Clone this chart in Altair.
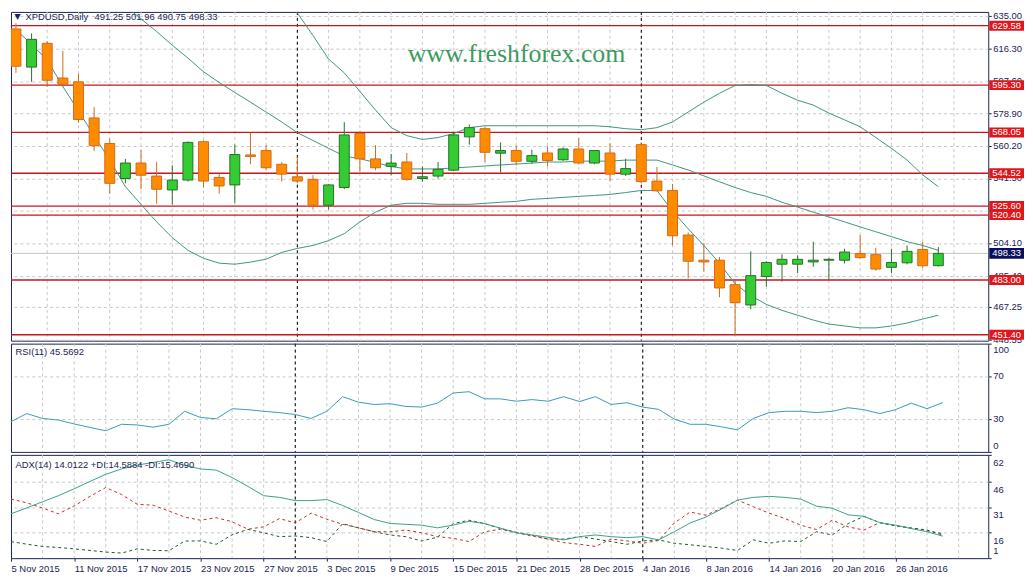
import json
import altair as alt
import pandas as pd

# ---------------- data ----------------
dates = ["5 Nov 2015", "6 Nov 2015", "9 Nov 2015", "10 Nov 2015", "11 Nov 2015", "12 Nov 2015",
         "13 Nov 2015", "16 Nov 2015", "17 Nov 2015", "18 Nov 2015", "19 Nov 2015", "20 Nov 2015",
         "23 Nov 2015", "24 Nov 2015", "25 Nov 2015", "26 Nov 2015", "27 Nov 2015", "30 Nov 2015",
         "1 Dec 2015", "2 Dec 2015", "3 Dec 2015", "4 Dec 2015", "7 Dec 2015", "8 Dec 2015",
         "9 Dec 2015", "10 Dec 2015", "11 Dec 2015", "14 Dec 2015", "15 Dec 2015", "16 Dec 2015",
         "17 Dec 2015", "18 Dec 2015", "21 Dec 2015", "22 Dec 2015", "23 Dec 2015", "24 Dec 2015",
         "28 Dec 2015", "29 Dec 2015", "30 Dec 2015", "31 Dec 2015", "4 Jan 2016", "5 Jan 2016",
         "6 Jan 2016", "7 Jan 2016", "8 Jan 2016", "11 Jan 2016", "12 Jan 2016", "13 Jan 2016",
         "14 Jan 2016", "15 Jan 2016", "18 Jan 2016", "19 Jan 2016", "20 Jan 2016", "21 Jan 2016",
         "22 Jan 2016", "25 Jan 2016", "26 Jan 2016", "27 Jan 2016", "28 Jan 2016", "29 Jan 2016"]

opens = [627.7, 605.7, 619.4, 599.4, 597.2, 576.4, 561.7, 541.5, 550.4, 542.9,
         534.9, 540.6, 562.7, 542.1, 537.8, 555.1, 557.6, 549.7, 542.5, 541.0,
         526.1, 536.3, 567.4, 552.8, 548.5, 551.0, 541.5, 542.9, 546.3, 565.5,
         570.2, 556.1, 557.6, 551.4, 556.2, 552.3, 558.5, 550.4, 556.2, 544.0,
         561.0, 540.0, 534.6, 508.9, 494.4, 494.4, 480.3, 468.6, 485.0, 492.1,
         492.1, 493.4, 494.4, 494.4, 498.2, 497.6, 490.3, 492.9, 500.6, 491.25]
highs = [631.0, 625.1, 620.7, 615.0, 601.9, 582.6, 564.5, 552.8, 557.9, 551.0,
         549.1, 562.8, 563.5, 544.3, 561.0, 567.9, 560.7, 551.0, 554.2, 543.4,
         538.4, 574.0, 568.9, 560.7, 555.7, 556.2, 548.5, 551.0, 567.9, 572.6,
         571.1, 562.3, 560.4, 558.1, 559.8, 559.4, 564.7, 557.9, 561.7, 552.8,
         562.3, 548.1, 538.4, 510.4, 504.4, 496.3, 483.1, 499.5, 493.8, 497.8,
         497.2, 505.1, 495.7, 501.0, 508.9, 501.6, 501.0, 502.9, 505.1, 501.96]
lows = [602.4, 597.2, 594.3, 594.3, 573.6, 557.2, 532.7, 538.7, 535.3, 527.0,
        526.5, 539.7, 536.3, 532.7, 527.4, 549.7, 546.3, 539.7, 538.7, 523.6,
        523.6, 535.3, 545.3, 546.3, 543.4, 540.2, 539.7, 541.5, 545.7, 561.0,
        551.0, 544.9, 549.1, 550.0, 548.5, 551.5, 549.7, 549.7, 540.0, 542.9,
        538.7, 534.0, 502.9, 484.0, 487.8, 473.1, 451.0, 466.1, 479.3, 482.1,
        486.9, 490.6, 483.1, 492.5, 495.4, 488.3, 486.9, 492.0, 490.0, 490.75]
closes = [606.2, 621.7, 598.1, 595.8, 575.5, 560.4, 538.7, 550.4, 543.4, 535.3,
          540.6, 562.3, 540.0, 537.2, 555.3, 554.2, 547.7, 544.0, 540.0, 526.1,
          537.8, 566.6, 552.8, 547.7, 550.4, 541.0, 542.5, 546.8, 566.6, 570.8,
          556.6, 557.6, 551.4, 554.7, 551.9, 558.5, 550.4, 557.6, 544.0, 547.2,
          539.7, 534.4, 508.5, 493.8, 493.4, 478.4, 469.9, 485.5, 493.1, 494.9,
          494.9, 494.4, 494.9, 499.1, 495.9, 489.3, 493.1, 499.5, 491.2, 498.33]

bb_upper = [None] * 17 + [
    648.8, 636.9, 623.9, 610.3, 602.4, 591.7, 580.9, 570.8, 566.2, 564.0,
    565.1, 567.4, 570.8, 571.9, 571.9, 571.9, 571.9, 571.9, 571.9, 571.9,
    571.9, 571.3, 570.2, 569.6, 570.8, 574.1, 579.8, 585.5, 590.6, 595.1,
    595.6, 595.1, 590.6, 586.6, 583.8, 579.2, 575.3, 571.3, 565.1, 558.9,
    552.1, 543.6, 536.8]
bb_mid = [None] * 7 + [
    640.9, 633.5, 626.2, 618.3, 610.9, 603.0, 596.8, 591.1, 585.5, 579.8,
    574.1, 567.9, 563.4, 558.9, 554.4, 552.9, 550.7, 548.4, 547.0, 547.0,
    547.0, 547.6, 548.1, 548.7, 549.3, 549.8, 550.4, 551.0, 551.0, 551.5,
    551.5, 551.5, 552.1, 552.1, 552.1, 549.3, 546.4, 543.0, 539.6, 536.3,
    533.4, 531.2, 527.8, 525.0, 522.1, 519.3, 516.5, 513.6, 510.8, 508.0,
    505.1, 502.9, 500.1]
bb_lower = [627.3, 618.8, 609.8, 594.5, 580.4, 566.2, 552.1, 536.8, 526.6, 516.5,
            507.4, 500.1, 495.5, 492.7, 492.1, 493.3, 495.0, 498.9, 501.2, 502.9,
            505.7, 509.7, 516.5, 522.1, 526.1, 527.2, 527.2, 526.6, 526.6, 526.6,
            527.2, 527.8, 528.3, 529.5, 530.0, 530.6, 531.2, 531.7, 532.3, 533.4,
            534.6, 534.6, 522.7, 512.5, 502.9, 492.7, 480.8, 474.0, 468.9, 465.5,
            462.7, 459.9, 457.6, 456.5, 455.4, 455.4, 456.5, 458.2, 460.5, 462.7]

rsi = [27.9, 35.4, 30.9, 29.4, 25.8, 22.6, 19.5, 25.5, 24.9, 22.8,
       25.5, 37.5, 31.8, 30.6, 39.9, 39.0, 37.5, 36.3, 34.5, 30.9,
       37.5, 51.0, 45.9, 43.8, 44.5, 42.0, 41.4, 45.0, 54.4, 55.6,
       49.0, 49.0, 46.8, 48.3, 46.8, 51.0, 46.5, 51.0, 43.8, 45.4,
       41.4, 39.3, 30.3, 25.5, 25.5, 23.1, 20.4, 30.9, 36.3, 37.5,
       37.5, 36.3, 37.5, 40.8, 39.0, 35.4, 39.0, 45.0, 39.9, 45.57]
adx = [27.2, 30.7, 34.3, 37.9, 42.0, 46.3, 50.5, 53.7, 56.0, 57.5,
       59.1, 55.8, 53.7, 53.0, 48.6, 43.4, 37.9, 36.9, 35.0, 35.0,
       35.6, 32.1, 28.0, 23.8, 21.5, 21.0, 20.5, 18.9, 20.5, 22.8,
       21.4, 18.7, 16.0, 14.7, 13.3, 11.8, 13.7, 14.7, 13.7, 13.1,
       13.7, 11.8, 16.6, 21.8, 25.3, 30.1, 35.3, 36.9, 37.5, 36.9,
       35.9, 31.7, 30.5, 26.6, 25.7, 22.0, 20.5, 18.5, 16.6, 14.01]
plus_di = [10.8, 9.25, 7.9, 7.3, 6.5, 5.55, 4.6, 4.0, 6.5, 5.55,
           5.4, 11.1, 11.2, 9.2, 14.8, 18.0, 16.0, 13.7, 14.1, 13.1,
           10.8, 21.4, 18.9, 16.6, 14.7, 13.7, 11.1, 13.4, 21.4, 23.4,
           21.4, 18.5, 16.3, 14.5, 12.3, 12.3, 13.7, 12.3, 10.8, 9.2,
           11.2, 11.8, 9.8, 8.9, 7.9, 6.9, 5.55, 11.8, 9.8, 11.2,
           10.8, 16.6, 14.7, 21.4, 25.7, 22.0, 20.1, 18.9, 17.6, 14.59]
minus_di = [35.9, 33.7, 30.6, 27.2, 31.8, 37.5, 42.7, 38.6, 32.8, 32.3,
            28.8, 25.3, 23.4, 24.9, 22.5, 18.1, 19.5, 24.4, 21.8, 27.6,
            24.0, 21.0, 18.9, 16.6, 16.6, 17.6, 16.0, 13.7, 12.7, 10.8,
            16.6, 18.1, 16.0, 14.0, 12.3, 10.2, 9.2, 7.9, 12.3, 11.2,
            9.8, 11.4, 21.8, 28.2, 26.4, 30.5, 35.3, 31.4, 27.6, 24.4,
            20.5, 17.9, 23.4, 19.5, 17.6, 22.0, 20.1, 18.5, 17.2, 15.47]

levels = [629.58, 595.30, 568.05, 544.52, 525.60, 520.40, 483.00, 451.40]
current_price = [498.33]
price_ticks = [635.00, 616.30, 597.60, 578.90, 560.20, 541.50, 522.80, 504.10, 485.40, 467.25, 448.55]
rsi_ticks = [0, 30, 70, 100]
adx_ticks = [1, 16, 31, 46, 62]
date_tick_idx = list(range(0, 60, 4))
grid_idx = list(range(2, 62, 2))
month_sep_idx = [18, 40]

header_symbol = "XPDUSD,Daily"
header_ohlc = "491.25 501.96 490.75 498.33"
rsi_title = "RSI(11) 45.5692"
adx_title = "ADX(14) 14.0122 +DI:14.5884 -DI:15.4690"
watermark = "www.freshforex.com"

# ---------------- styling ----------------
NAVY = "#1b2452"
FONT = "Liberation Sans, Arial, sans-serif"
FS = 9.5
GRID = "#c8c8c8"
RED = "#e0161b"
BAND = "#3d9580"
UP_FILL, UP_EDGE = "#33cc33", "#2a6e2a"
DN_FILL, DN_EDGE = "#ff8c00", "#d2691e"
W = 984
H1, H2, H3 = 331, 109, 104

n = len(dates)
df = pd.DataFrame({
    "i": list(range(n)), "date": dates, "open": opens, "high": highs, "low": lows,
    "close": closes, "bb_upper": bb_upper, "bb_mid": bb_mid, "bb_lower": bb_lower,
    "rsi": rsi, "adx": adx, "pdi": plus_di, "mdi": minus_di,
})
df["dir"] = ["up" if c >= o else "down" for o, c in zip(opens, closes)]

xsc = alt.Scale(domain=[0, 61.875], nice=False, zero=False)
grid_df = pd.DataFrame({"g": grid_idx})
sep_df = pd.DataFrame({"s": month_sep_idx})


def xenc(field, axis=None):
    return alt.X(field, type="quantitative", scale=xsc, axis=axis, title=None)


def vgrid(ax=None):
    return alt.Chart(grid_df).mark_rule(color=GRID, strokeDash=[3, 3], strokeWidth=1).encode(
        x=xenc("g", ax))


def seps(ax=None):
    return alt.Chart(sep_df).mark_rule(color="#000000", strokeDash=[3, 3], strokeWidth=1).encode(
        x=xenc("s", ax))


def label(text, x, y, size=FS, align="left", color=NAVY, font=FONT, baseline="middle"):
    return alt.Chart(pd.DataFrame({"t": [text]})).mark_text(
        align=align, baseline=baseline, fontSize=size, font=font, color=color
    ).encode(x=alt.value(x), y=alt.value(y), text="t:N")


def axis_text(values, yfun, fmt, baseline="middle", dy=0):
    return alt.Chart(pd.DataFrame({"v": values})).mark_text(
        align="left", baseline=baseline, fontSize=FS, font=FONT, color=NAVY, dy=dy
    ).encode(x=alt.value(W + 5), y=yfun("v"), text=alt.Text("v:Q", format=fmt))


# ---------------- main price panel ----------------
ys = alt.Scale(domain=[448.03, 637.5], nice=False, zero=False)
ax_main = alt.Axis(orient="right", values=price_ticks, labels=False, grid=True, gridDash=[3, 3],
                   gridColor=GRID, tickSize=3, domain=False)


def yenc(field):
    return alt.Y(field, type="quantitative", scale=ys, axis=ax_main, title=None)


base = alt.Chart(df)

bid_line = alt.Chart(pd.DataFrame({"p": current_price})).mark_rule(
    color="#c4c4c4", strokeWidth=1).encode(y=yenc("p"))
level_rules = alt.Chart(pd.DataFrame({"lv": levels})).mark_rule(
    color="#c8161d", strokeWidth=1.4).encode(y=yenc("lv"))

bands = base.transform_fold(["bb_upper", "bb_mid", "bb_lower"], as_=["band", "val"]).mark_line(
    color=BAND, strokeWidth=1, clip=True).encode(
    x=xenc("i"), y=yenc("val"), detail="band:N")

wicks = base.mark_rule(strokeWidth=1, clip=True).encode(
    x=xenc("i"), y=yenc("low"), y2="high:Q",
    color=alt.Color("dir:N", scale=alt.Scale(domain=["up", "down"], range=[UP_EDGE, DN_EDGE]),
                    legend=None))
bodies = base.mark_bar(size=10, strokeWidth=1, clip=True).encode(
    x=xenc("i"), y=yenc("open"), y2="close:Q",
    fill=alt.Fill("dir:N", scale=alt.Scale(domain=["up", "down"], range=[UP_FILL, DN_FILL]),
                  legend=None),
    stroke=alt.Stroke("dir:N", scale=alt.Scale(domain=["up", "down"], range=[UP_EDGE, DN_EDGE]),
                      legend=None))

price_labels = axis_text(price_ticks, yenc, ".2f")

tag_df = pd.DataFrame({"lv": levels})
tags = alt.Chart(tag_df).mark_tick(orient="horizontal", size=35, thickness=10, color=RED,
                                   opacity=1).encode(x=alt.value(W + 18.5), y=yenc("lv"))
tag_text = alt.Chart(tag_df).mark_text(color="white", fontSize=FS, font=FONT, align="center",
                                       baseline="middle").encode(
    x=alt.value(W + 18.5), y=yenc("lv"), text=alt.Text("lv:Q", format=".2f"))
cur_df = pd.DataFrame({"p": current_price})
cur_tag = alt.Chart(cur_df).mark_tick(orient="horizontal", size=35, thickness=11, color="#0a0f5c",
                                      opacity=1).encode(x=alt.value(W + 18.5), y=yenc("p"))
cur_text = alt.Chart(cur_df).mark_text(color="white", fontSize=FS, font=FONT, align="center",
                                       baseline="middle").encode(
    x=alt.value(W + 18.5), y=yenc("p"), text=alt.Text("p:Q", format=".2f"))

main = alt.layer(
    vgrid(), seps(), bid_line, level_rules, bands, wicks, bodies,
    price_labels, tags, tag_text, cur_tag, cur_text,
    label("▼", 6.5, 5, size=8, align="center", font="DejaVu Sans"),
    label(header_symbol, 14.5, 5.5),
    label(header_ohlc, 84, 5.5),
    label(watermark, 509, 50, size=26, align="center", color="#3d9a5e",
          font="Liberation Serif", baseline="alphabetic"),
).properties(width=W, height=H1)

# ---------------- RSI panel ----------------
ys_rsi = alt.Scale(domain=[0, 100], nice=False, zero=False)
ax_rsi = alt.Axis(orient="right", values=rsi_ticks, labels=False,
                  grid=True, gridDash=[3, 3], gridColor=GRID,
                  gridOpacity={"condition": {"test": "datum.value == 0 || datum.value == 100",
                                             "value": 0}, "value": 1},
                  tickSize=3, domain=False)


def yrsi(field):
    return alt.Y(field, type="quantitative", scale=ys_rsi, axis=ax_rsi, title=None)


rsi_line = base.mark_line(color="#3a9ab8", strokeWidth=1).encode(x=xenc("i"), y=yrsi("rsi"))
rsi_panel = alt.layer(
    vgrid(), seps(), rsi_line, label(rsi_title, 4.5, 8),
    axis_text([100], yrsi, "d", baseline="top", dy=1),
    axis_text([70, 30], yrsi, "d"),
    label(str(rsi_ticks[0]), W + 5, H2 - 1, baseline="bottom"),
).properties(width=W, height=H2)

# ---------------- ADX panel ----------------
ys_adx = alt.Scale(domain=[1, 62], nice=False, zero=False)
ax_adx = alt.Axis(orient="right", values=adx_ticks, labels=False, grid=True, gridDash=[3, 3],
                  gridColor=GRID,
                  gridOpacity={"condition": {"test": "datum.value <= 1 || datum.value >= 62",
                                             "value": 0}, "value": 1},
                  tickSize=3, domain=False)
ax_x = alt.Axis(values=date_tick_idx, labelExpr=json.dumps(dates) + "[datum.value]",
                labelAlign="left", labelFlush=False, labelOverlap=False, tickSize=3,
                labelPadding=2, domain=False, grid=False)


def yadx(field):
    return alt.Y(field, type="quantitative", scale=ys_adx, axis=ax_adx, title=None)


adx_line = base.mark_line(color="#3aa08a", strokeWidth=1).encode(x=xenc("i", ax_x), y=yadx("adx"))
pdi_line = base.mark_line(color="#1f5a2a", strokeWidth=1, strokeDash=[3, 3]).encode(
    x=xenc("i", ax_x), y=yadx("pdi"))
mdi_line = base.mark_line(color="#c0302a", strokeWidth=1, strokeDash=[3, 3]).encode(
    x=xenc("i", ax_x), y=yadx("mdi"))
adx_panel = alt.layer(
    vgrid(ax_x), seps(ax_x), mdi_line, pdi_line, adx_line, label(adx_title, 4.5, 10.5),
    axis_text([62, 46, 31, 16], yadx, "d", baseline="top", dy=3),
    axis_text([1], yadx, "d", baseline="bottom", dy=-2),
).properties(width=W, height=H3)

chart = alt.vconcat(main, rsi_panel, adx_panel, spacing=3).properties(
    bounds="flush", padding=0, background="white"
).configure_view(stroke=NAVY, strokeWidth=1).configure_axis(
    labelFont=FONT, labelFontSize=FS, labelColor=NAVY, tickColor=NAVY
)

chart.save("out.html", embed_options={"renderer": "svg", "actions": False})
